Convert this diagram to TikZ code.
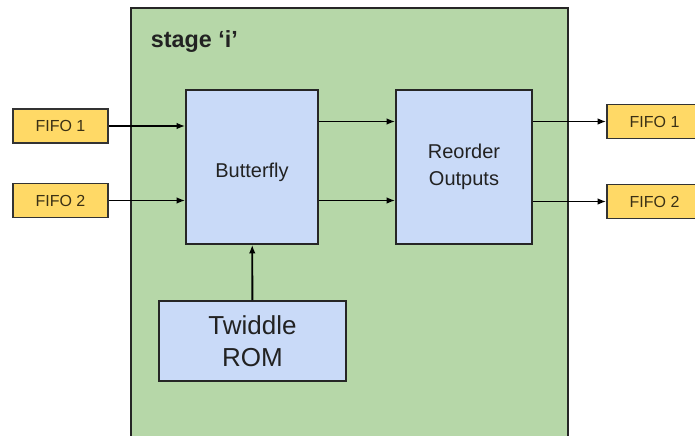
\documentclass[tikz,border=0pt]{standalone}
\usepackage{fontspec}
\setmainfont{Liberation Sans}
\usepackage{xcolor}
\definecolor{stagegreen}{HTML}{B6D7A8}
\definecolor{blockblue}{HTML}{C9DAF8}
\definecolor{fifoyellow}{HTML}{FFD966}
\definecolor{textgray}{HTML}{222222}
\definecolor{fifotext}{HTML}{3A3015}
\usetikzlibrary{positioning,arrows.meta}

\begin{document}
\begin{tikzpicture}[x=0.75pt,y=-0.75pt,->,line width=1.4pt]
		\tikzstyle{block}=[rectangle, draw=black!85, fill=blockblue, text=textgray, align=center, inner sep=0pt, line width=1.2pt]
		\tikzstyle{fifo}=[rectangle, draw=black!80, fill=fifoyellow, text=fifotext, minimum width=71.25pt, minimum height=25.5pt, inner sep=0pt, line width=1.2pt, font=\fontsize{12}{14}\selectfont]
		\tikzset{>={Latex[length=6.5pt,width=5pt]}}
		\useasboundingbox (0,0) rectangle (695,435);
		\node[rectangle, draw=black!85, fill=stagegreen, minimum width=327.75pt, minimum height=327.75pt, line width=1.2pt] (stage) at (349.5,226.5) {};
		\node[anchor=west, inner sep=0pt, text=textgray, font=\bfseries\fontsize{17.5}{20}\selectfont] (stagelabel) at (150,42) {stage ‘i’};
		\node[block, minimum width=99pt, minimum height=115.5pt, font=\fontsize{15}{18}\selectfont] (butterfly) at (252,167) {\raisebox{-8pt}[0pt][0pt]{Butterfly}};
		\node[block, minimum width=102pt, minimum height=115.5pt, font=\fontsize{15}{20}\selectfont] (reorder) at (464,167) {Reorder\\Outputs};
		\node[block, minimum width=140.25pt, minimum height=60pt, font=\fontsize{19.5}{24}\selectfont] (twiddle) at (252.5,341) {Twiddle\\ROM};
		\node[fifo] (fifoin1) at (60.5,126) {FIFO 1};
		\node[fifo] (fifoin2) at (60.5,200.5) {FIFO 2};
		\node[fifo] (fifoout1) at (654.5,121.5) {FIFO 1};
		\node[fifo] (fifoout2) at (654.5,201.5) {FIFO 2};
		\draw (fifoin1) -- (fifoin1 -| butterfly.west);
		\draw (fifoin2) -- (fifoin2 -| butterfly.west);
		\draw (butterfly.east |- fifoout1) -- (reorder.west |- fifoout1);
		\draw (butterfly.east |- fifoin2) -- (reorder.west |- fifoin2);
		\draw (reorder.east |- fifoout1) -- (fifoout1.west);
		\draw (reorder.east |- fifoout2) -- (fifoout2.west);
		\draw (twiddle) -- (butterfly);
	\end{tikzpicture}
\end{document}
